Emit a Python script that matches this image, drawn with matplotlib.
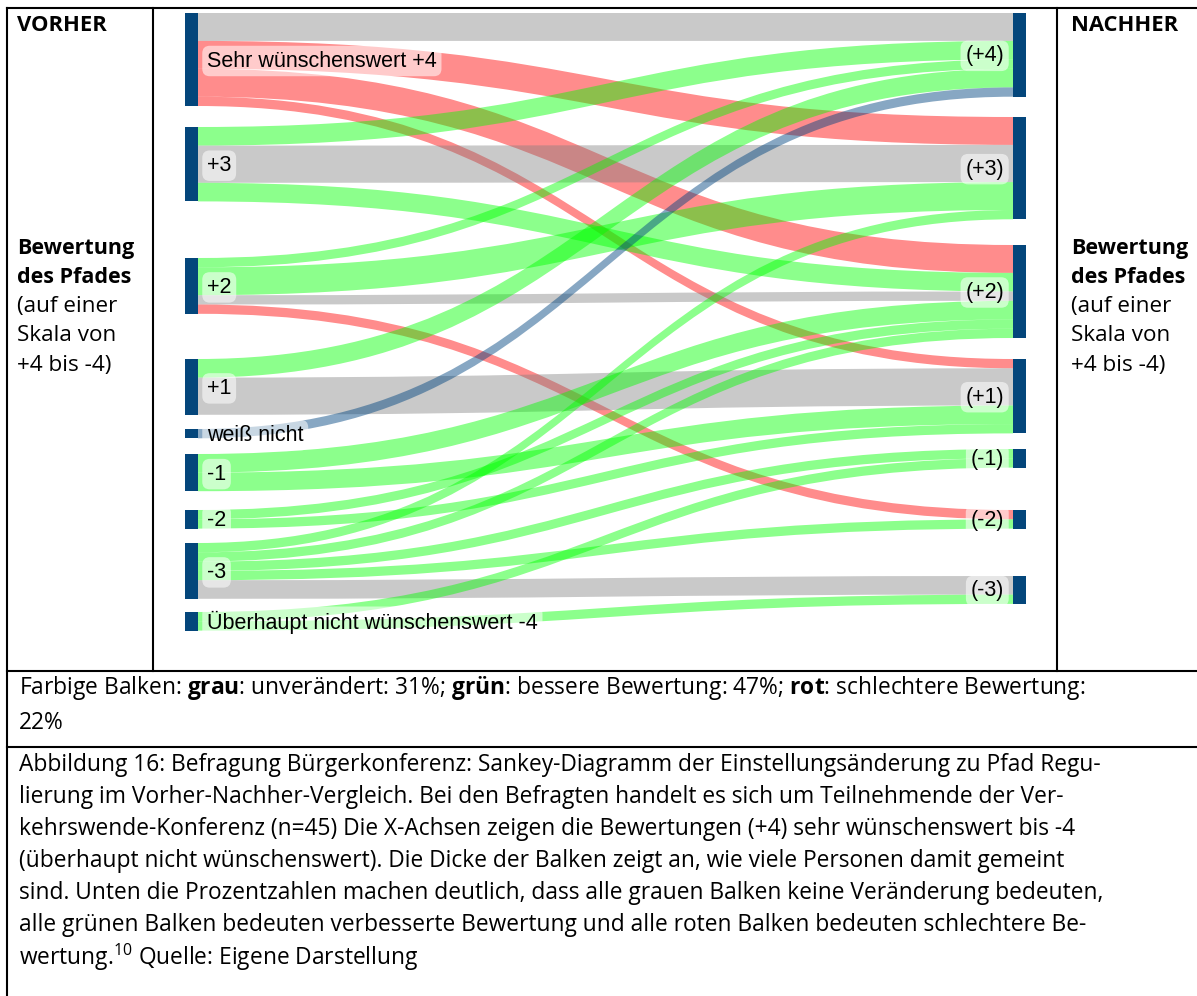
import matplotlib
matplotlib.use('Agg')
import matplotlib.pyplot as plt
from matplotlib.path import Path
from matplotlib.patches import PathPatch, Rectangle

plt.rcParams['font.family'] = ['Open Sans', 'DejaVu Sans']
plt.rcParams['mathtext.fontset'] = 'custom'
plt.rcParams['mathtext.rm'] = 'Open Sans'
plt.rcParams['mathtext.bf'] = 'Open Sans:bold'

# Knoten (vorher links, nachher rechts)
vorher = ['Sehr wünschenswert +4', '+3', '+2', '+1', 'weiß nicht', '-1', '-2', '-3',
          'Überhaupt nicht wünschenswert -4']
nachher = ['(+4)', '(+3)', '(+2)', '(+1)', '(-1)', '(-2)', '(-3)']

# Flüsse: Quelle (Index vorher), Ziel (Index nachher), Anzahl Personen, Farbgruppe
quelle = [0, 0, 0, 0, 1, 1, 1, 2, 2, 2, 2, 3, 3, 4, 5, 5, 6, 6, 7, 7, 7, 7, 7, 8, 8]
ziel   = [0, 1, 2, 3, 0, 1, 2, 0, 1, 2, 5, 0, 3, 0, 2, 3, 2, 3, 1, 2, 4, 5, 6, 4, 6]
anzahl = [3, 3, 3, 1, 2, 4, 2, 1, 3, 1, 1, 2, 4, 1, 2, 2, 1, 1, 1, 1, 1, 1, 2, 1, 1]
gruppe = ['grau', 'rot', 'rot', 'rot', 'gruen', 'grau', 'gruen', 'gruen', 'gruen', 'grau', 'rot',
          'gruen', 'grau', 'blau', 'gruen', 'gruen', 'gruen', 'gruen', 'gruen', 'gruen', 'gruen',
          'gruen', 'grau', 'gruen', 'gruen']

caption = [
    "Abbildung 16: Befragung Bürgerkonferenz: Sankey-Diagramm der Einstellungsänderung zu Pfad Regu-",
    "lierung im Vorher-Nachher-Vergleich. Bei den Befragten handelt es sich um Teilnehmende der Ver-",
    "kehrswende-Konferenz (n=45) Die X-Achsen zeigen die Bewertungen (+4) sehr wünschenswert bis -4",
    "(überhaupt nicht wünschenswert). Die Dicke der Balken zeigt an, wie viele Personen damit gemeint",
    "sind. Unten die Prozentzahlen machen deutlich, dass alle grauen Balken keine Veränderung bedeuten,",
    "alle grünen Balken bedeuten verbesserte Bewertung und alle roten Balken bedeuten schlechtere Be-",
    "wertung.$^{10}$ Quelle: Eigene Darstellung",
]

farben = {'grau': (0.5, 0.5, 0.5, 0.42), 'gruen': (0.0, 1.0, 0.0, 0.45),
          'rot': (1.0, 0.0, 0.0, 0.45), 'blau': (0.0, 0.27, 0.5, 0.47)}
knotenfarbe = '#04467b'

# Layout in Pixeln
einheit = 9.3
oben_links = [13, 127, 258, 359, 429, 454, 510, 543, 612]
oben_rechts = [13, 117, 245, 359, 449, 510, 576]
xl, xr, kb = 185, 1013, 13

fig = plt.figure(figsize=(11.97, 9.96), dpi=100)
ax = fig.add_axes([0, 0, 1, 1])
ax.set_xlim(0, 1197)
ax.set_ylim(996, 0)
ax.axis('off')

n = len(quelle)
off_q = [0.0] * len(vorher)
off_z = [0.0] * len(nachher)
y_q = {}
y_z = {}
for i in sorted(range(n), key=lambda k: (quelle[k], ziel[k])):
    s = quelle[i]
    y_q[i] = oben_links[s] + off_q[s]
    off_q[s] += anzahl[i] * einheit
for i in sorted(range(n), key=lambda k: (ziel[k], quelle[k])):
    t = ziel[i]
    y_z[i] = oben_rechts[t] + off_z[t]
    off_z[t] += anzahl[i] * einheit

x0, x1 = xl + kb, xr
xm = (x0 + x1) / 2
for i in range(n):
    h = anzahl[i] * einheit
    a, b = y_q[i], y_z[i]
    verts = [(x0, a), (xm, a), (xm, b), (x1, b), (x1, b + h), (xm, b + h), (xm, a + h), (x0, a + h), (x0, a)]
    codes = [Path.MOVETO, Path.CURVE4, Path.CURVE4, Path.CURVE4, Path.LINETO,
             Path.CURVE4, Path.CURVE4, Path.CURVE4, Path.CLOSEPOLY]
    ax.add_patch(PathPatch(Path(verts, codes), fc=farben[gruppe[i]], ec='none', zorder=2))

box = dict(boxstyle='round,pad=0.22,rounding_size=0.35', fc=(1, 1, 1, 0.55), ec='none')
for k, name in enumerate(vorher):
    h = off_q[k]
    ax.add_patch(Rectangle((xl, oben_links[k]), kb, h, fc=knotenfarbe, ec='none', zorder=3))
    ax.text(xl + 22, oben_links[k] + h / 2 + 1.5, name, fontsize=15.5, family='Liberation Sans',
            va='center', ha='left', bbox=box, zorder=4)
for k, name in enumerate(nachher):
    h = off_z[k]
    ax.add_patch(Rectangle((xr, oben_rechts[k]), kb, h, fc=knotenfarbe, ec='none', zorder=3))
    ax.text(xr - 9, oben_rechts[k] + h / 2 + 1, name, fontsize=15.5, family='Liberation Sans',
            va='center', ha='right', bbox=box, zorder=4)

# Tabellenrahmen
lw = 1.5
ax.plot([7, 1197], [8, 8], color='black', lw=lw)
ax.plot([7, 7], [8, 996], color='black', lw=lw)
ax.plot([153, 153], [8, 671], color='black', lw=lw)
ax.plot([1057, 1057], [8, 671], color='black', lw=lw)
ax.plot([7, 1197], [671, 671], color='black', lw=lw)
ax.plot([7, 1197], [747, 747], color='black', lw=lw)

fs = 16.4
for x, titel in [(17, 'VORHER'), (1071, 'NACHHER')]:
    ax.text(x, 25, titel, fontsize=15.8, weight='bold', va='center')
    zeilen = [('Bewertung', 'bold'), ('des Pfades', 'bold'), ('(auf einer', 'normal'),
              ('Skala von', 'normal'), ('+4 bis -4)', 'normal')]
    for j, (z, w) in enumerate(zeilen):
        ax.text(x, 248 + j * 29.3, z, fontsize=15.5 if w == 'bold' else 16.2, weight=w, va='center')

ax.text(19, 688, "Farbige Balken: $\\mathbf{grau}$: unverändert: 31%; $\\mathbf{grün}$: bessere Bewertung: 47%; "
        "$\\mathbf{rot}$: schlechtere Bewertung:", fontsize=fs, va='center')
ax.text(19, 723, "22%", fontsize=fs, va='center')
for j, z in enumerate(caption):
    ax.text(19, 765 + j * 32, z, fontsize=fs, va='center')

fig.savefig('out.png', dpi=100)
